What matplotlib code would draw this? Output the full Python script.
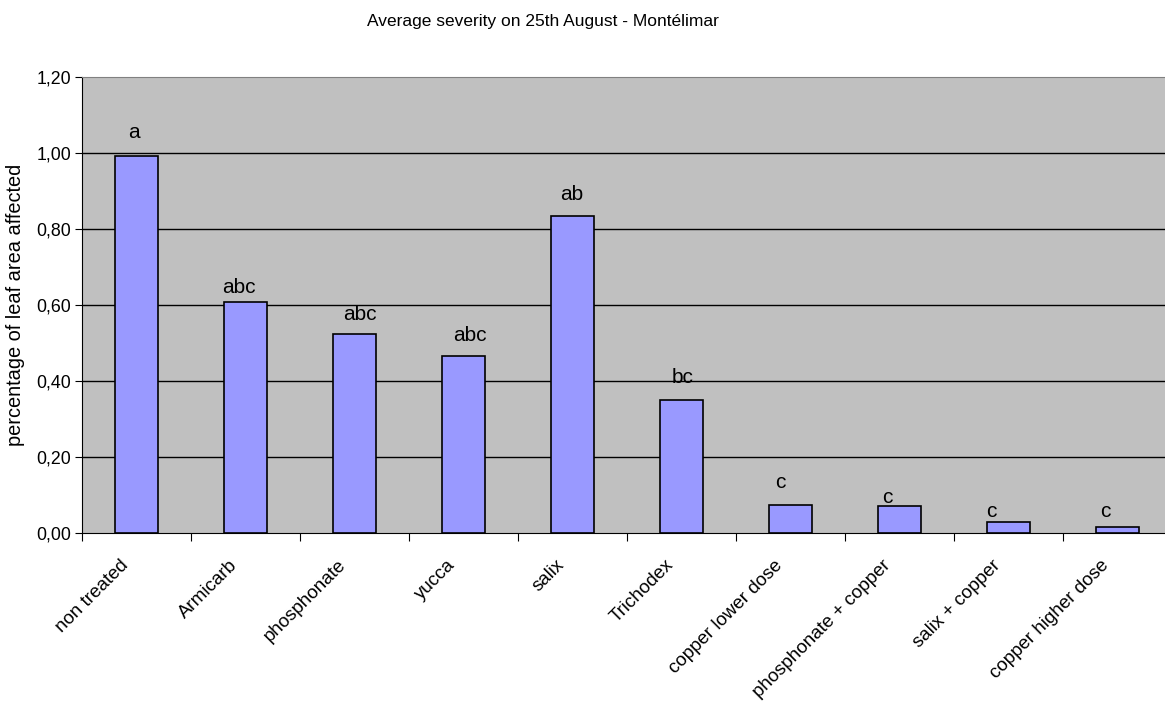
import numpy as np
import matplotlib
matplotlib.use("Agg")
import matplotlib.pyplot as plt
from matplotlib.ticker import FuncFormatter
from matplotlib.transforms import ScaledTranslation

plt.rcParams['font.family'] = ['Liberation Sans', 'DejaVu Sans']

# data
treatments = ['non treated', 'Armicarb', 'phosphonate', 'yucca', 'salix',
              'Trichodex', 'copper lower dose', 'phosphonate + copper',
              'salix + copper', 'copper higher dose']
severity = [0.992, 0.607, 0.524, 0.467, 0.833, 0.350, 0.073, 0.070, 0.030, 0.015]
letters = ['a', 'abc', 'abc', 'abc', 'ab', 'bc', 'c', 'c', 'c', 'c']
# where the letter boxes sit (height in data units, sideways nudge in categories)
letter_y = [1.053, 0.645, 0.576, 0.519, 0.891, 0.409, 0.132, 0.094, 0.057, 0.057]
letter_dx = [-0.02, -0.06, 0.046, 0.06, -0.006, 0.014, -0.09, -0.115, -0.154, -0.115]
yticks = [0.0, 0.2, 0.4, 0.6, 0.8, 1.0, 1.2]

fig = plt.figure(figsize=(11.65, 7.06), dpi=100)
ax = fig.add_axes([0.0704, 0.245, 0.9356, 0.646])
ax.set_facecolor('#C0C0C0')

x = np.arange(len(treatments))
ax.bar(x, severity, width=0.4, color='#9999FF', edgecolor='black', linewidth=1.2, zorder=3)

for xi, lab, ly, dx in zip(x, letters, letter_y, letter_dx):
    ax.text(xi + dx, ly, lab, ha='center', va='center', fontsize=15, zorder=4)

ax.set_xlim(-0.5, len(treatments) - 0.5)
ax.set_ylim(0, 1.2)
ax.set_yticks(yticks)
ax.yaxis.set_major_formatter(FuncFormatter(lambda v, p: f"{v:.2f}".replace('.', ',')))
ax.tick_params(axis='y', direction='out', length=5, labelsize=12.8, pad=3)

# category ticks sit between bars
ax.set_xticks(x - 0.5)
ax.set_xticklabels([])
ax.tick_params(axis='x', direction='out', length=6)

# rotated category names, right end slightly left of the bar centre
offset = ScaledTranslation(-17 / 100, -23.6 / 100, fig.dpi_scale_trans)
for xi, name in zip(x, treatments):
    ax.text(xi, 0, name, transform=ax.get_xaxis_transform() + offset,
            rotation=45, ha='right', va='top', rotation_mode='anchor',
            fontsize=13.5, clip_on=False)

for v in yticks[1:-1]:
    ax.axhline(v, color='black', linewidth=1, zorder=1)

ax.spines['top'].set_color('#808080')
ax.spines['right'].set_color('#808080')
ax.spines['left'].set_color('black')
ax.spines['bottom'].set_color('black')

ax.set_ylabel('percentage of leaf area affected', fontsize=14.4, labelpad=8)
fig.text(0.466, 0.970, 'Average severity on 25th August - Montélimar',
         ha='center', va='center', fontsize=12.5)

fig.savefig('out.png', dpi=100)
